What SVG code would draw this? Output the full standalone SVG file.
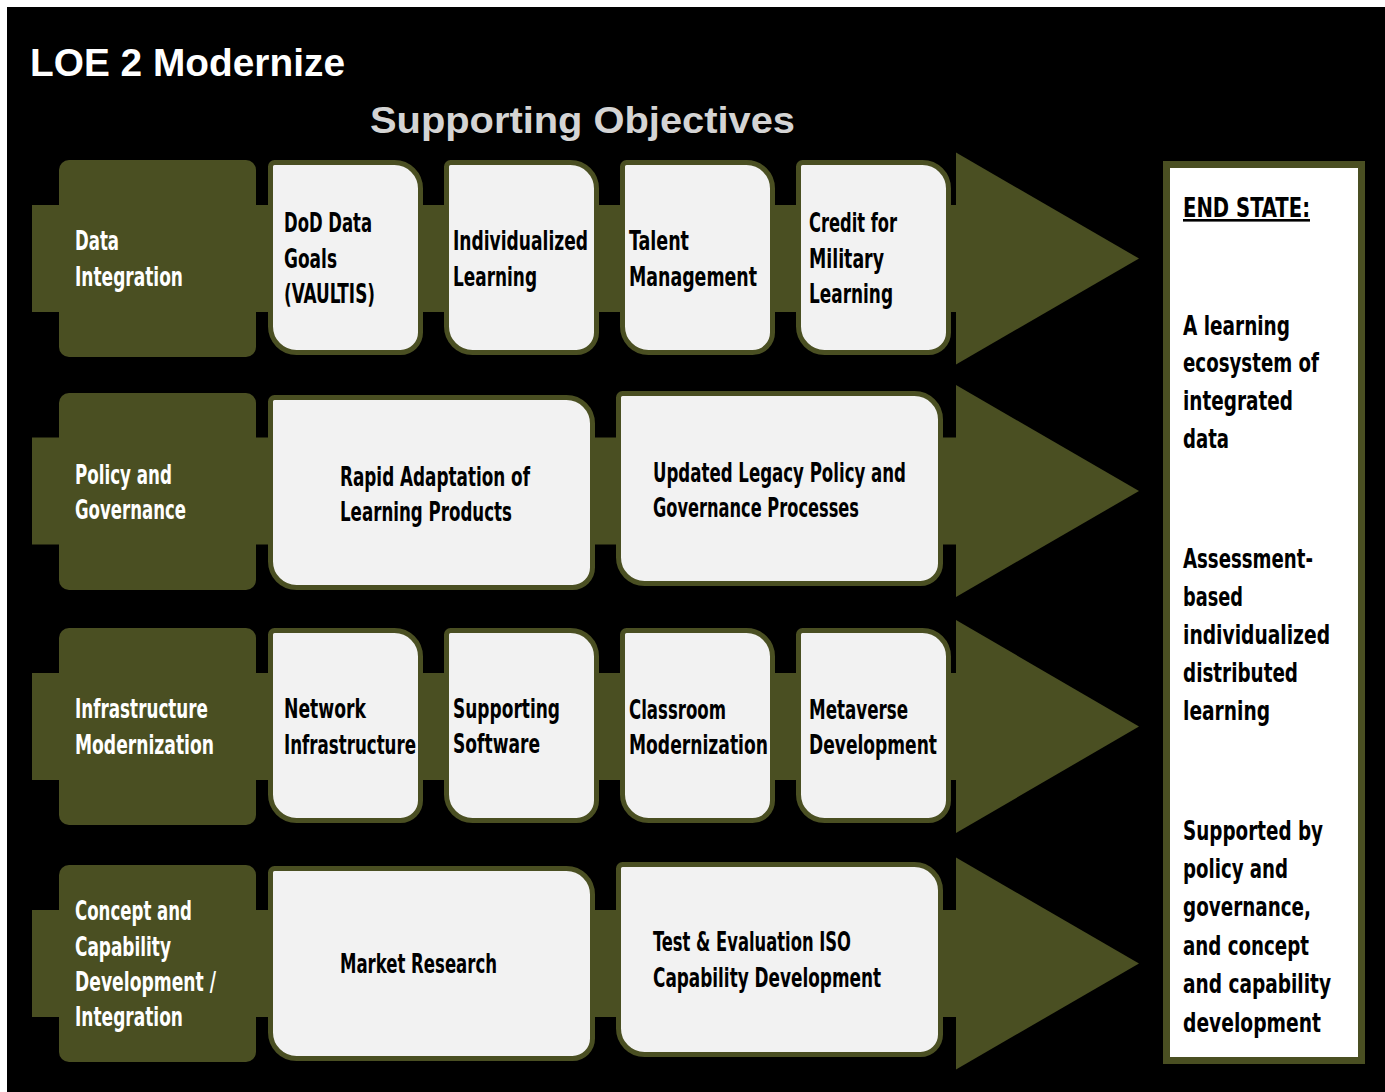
<svg xmlns="http://www.w3.org/2000/svg" xmlns:xlink="http://www.w3.org/1999/xlink" width="1385" height="1092" viewBox="0 0 1385 1092">
<style>
.g{fill:#4a4f22}
.box{fill:#f2f2f2;stroke:#4a4f22;stroke-width:5}
.t{font-family:"Liberation Sans Narrow","DejaVu Sans Condensed","Liberation Sans",Arial,sans-serif;font-weight:bold;font-size:26px}
.w{fill:#ffffff}
.k{fill:#000000}
.h{font-family:"Liberation Sans","DejaVu Sans",Arial,sans-serif;font-weight:bold}
</style>
<defs>
<path id="sb" d="M4,0 H124 A26,26 0 0 1 150,26 V170 A20,20 0 0 1 130,190 H26 A26,26 0 0 1 0,164 V4 A4,4 0 0 1 4,0 Z"/>
<path id="wb" d="M4,0 H296 A26,26 0 0 1 322,26 V170 A20,20 0 0 1 302,190 H26 A26,26 0 0 1 0,164 V4 A4,4 0 0 1 4,0 Z"/>
</defs>
<rect x="0" y="0" width="1385" height="1092" fill="#ffffff"/>
<rect x="7" y="7" width="1378" height="1085" fill="#000000"/>

<g id="titles">
<text class="h w" x="30" y="76" font-size="39" textLength="315" lengthAdjust="spacingAndGlyphs">LOE 2 Modernize</text>
<text class="h" x="370" y="133" font-size="37" fill="#d4d4d4" textLength="425" lengthAdjust="spacingAndGlyphs">Supporting Objectives</text>
</g>

<g id="connectors">
<rect class="g" x="32" y="205" width="926" height="107"/>
<polygon class="g" points="956,152.5 1139,258.5 956,364.5"/>
<rect class="g" x="32" y="437.5" width="926" height="107"/>
<polygon class="g" points="956,385 1139,491 956,597"/>
<rect class="g" x="32" y="673" width="926" height="107"/>
<polygon class="g" points="956,620 1139,726.5 956,833"/>
<rect class="g" x="32" y="910" width="926" height="107"/>
<polygon class="g" points="956,857.5 1139,963.5 956,1069.5"/>
</g>

<g id="row1-label">
<rect class="g" x="59" y="160" width="197" height="197" rx="10"/>
<text class="t w" x="75" y="250" textLength="44" lengthAdjust="spacingAndGlyphs">Data</text>
<text class="t w" x="75" y="286" textLength="108" lengthAdjust="spacingAndGlyphs">Integration</text>
</g>
<g id="dod-data-goals">
<use href="#sb" class="box" x="270.5" y="162.5"/>
<text class="t k" x="284" y="232" textLength="88" lengthAdjust="spacingAndGlyphs">DoD Data</text>
<text class="t k" x="284" y="268" textLength="53" lengthAdjust="spacingAndGlyphs">Goals</text>
<text class="t k" x="284" y="303" textLength="91" lengthAdjust="spacingAndGlyphs">(VAULTIS)</text>
</g>
<g id="individualized-learning">
<use href="#sb" class="box" x="446.5" y="162.5"/>
<text class="t k" x="453" y="250" textLength="135" lengthAdjust="spacingAndGlyphs">Individualized</text>
<text class="t k" x="453" y="286" textLength="84" lengthAdjust="spacingAndGlyphs">Learning</text>
</g>
<g id="talent-management">
<use href="#sb" class="box" x="622.5" y="162.5"/>
<text class="t k" x="629" y="250" textLength="60" lengthAdjust="spacingAndGlyphs">Talent</text>
<text class="t k" x="629" y="286" textLength="128" lengthAdjust="spacingAndGlyphs">Management</text>
</g>
<g id="credit-military-learning">
<use href="#sb" class="box" x="798.5" y="162.5"/>
<text class="t k" x="809" y="232" textLength="88" lengthAdjust="spacingAndGlyphs">Credit for</text>
<text class="t k" x="809" y="268" textLength="75" lengthAdjust="spacingAndGlyphs">Military</text>
<text class="t k" x="809" y="303" textLength="84" lengthAdjust="spacingAndGlyphs">Learning</text>
</g>

<g id="row2-label">
<rect class="g" x="59" y="393" width="197" height="197" rx="10"/>
<text class="t w" x="75" y="484" textLength="97" lengthAdjust="spacingAndGlyphs">Policy and</text>
<text class="t w" x="75" y="519" textLength="111" lengthAdjust="spacingAndGlyphs">Governance</text>
</g>
<g id="rapid-adaptation">
<use href="#wb" class="box" x="270.5" y="397.5"/>
<text class="t k" x="340" y="486" textLength="190" lengthAdjust="spacingAndGlyphs">Rapid Adaptation of</text>
<text class="t k" x="340" y="521" textLength="172" lengthAdjust="spacingAndGlyphs">Learning Products</text>
</g>
<g id="updated-legacy-policy">
<use href="#wb" class="box" x="618.5" y="393.5"/>
<text class="t k" x="653" y="482" textLength="253" lengthAdjust="spacingAndGlyphs">Updated Legacy Policy and</text>
<text class="t k" x="653" y="517" textLength="206" lengthAdjust="spacingAndGlyphs">Governance Processes</text>
</g>

<g id="row3-label">
<rect class="g" x="59" y="628" width="197" height="197" rx="10"/>
<text class="t w" x="75" y="718" textLength="133" lengthAdjust="spacingAndGlyphs">Infrastructure</text>
<text class="t w" x="75" y="754" textLength="139" lengthAdjust="spacingAndGlyphs">Modernization</text>
</g>
<g id="network-infrastructure">
<use href="#sb" class="box" x="270.5" y="630.5"/>
<text class="t k" x="284" y="718" textLength="82" lengthAdjust="spacingAndGlyphs">Network</text>
<text class="t k" x="284" y="754" textLength="132" lengthAdjust="spacingAndGlyphs">Infrastructure</text>
</g>
<g id="supporting-software">
<use href="#sb" class="box" x="446.5" y="630.5"/>
<text class="t k" x="453" y="718" textLength="107" lengthAdjust="spacingAndGlyphs">Supporting</text>
<text class="t k" x="453" y="753" textLength="87" lengthAdjust="spacingAndGlyphs">Software</text>
</g>
<g id="classroom-modernization">
<use href="#sb" class="box" x="622.5" y="630.5"/>
<text class="t k" x="629" y="719" textLength="97" lengthAdjust="spacingAndGlyphs">Classroom</text>
<text class="t k" x="629" y="754" textLength="139" lengthAdjust="spacingAndGlyphs">Modernization</text>
</g>
<g id="metaverse-development">
<use href="#sb" class="box" x="798.5" y="630.5"/>
<text class="t k" x="809" y="719" textLength="99" lengthAdjust="spacingAndGlyphs">Metaverse</text>
<text class="t k" x="809" y="754" textLength="128" lengthAdjust="spacingAndGlyphs">Development</text>
</g>

<g id="row4-label">
<rect class="g" x="59" y="865" width="197" height="197" rx="10"/>
<text class="t w" x="75" y="920" textLength="117" lengthAdjust="spacingAndGlyphs">Concept and</text>
<text class="t w" x="75" y="956" textLength="96" lengthAdjust="spacingAndGlyphs">Capability</text>
<text class="t w" x="75" y="991" textLength="141" lengthAdjust="spacingAndGlyphs">Development /</text>
<text class="t w" x="75" y="1026" textLength="108" lengthAdjust="spacingAndGlyphs">Integration</text>
</g>
<g id="market-research">
<use href="#wb" class="box" x="270.5" y="868.5"/>
<text class="t k" x="340" y="973" textLength="157" lengthAdjust="spacingAndGlyphs">Market Research</text>
</g>
<g id="test-evaluation">
<use href="#wb" class="box" x="618.5" y="864.5"/>
<text class="t k" x="653" y="951" textLength="198" lengthAdjust="spacingAndGlyphs">Test &amp; Evaluation ISO</text>
<text class="t k" x="653" y="987" textLength="228" lengthAdjust="spacingAndGlyphs">Capability Development</text>
</g>

<g id="end-state">
<rect x="1166.5" y="164.5" width="195" height="896" fill="#ffffff" stroke="#4a4f22" stroke-width="7"/>
<text class="t k" x="1183" y="217" textLength="127" lengthAdjust="spacingAndGlyphs" text-decoration="underline">END STATE:</text>
<text class="t k" x="1183" y="335" textLength="107" lengthAdjust="spacingAndGlyphs">A learning</text>
<text class="t k" x="1183" y="372" textLength="136" lengthAdjust="spacingAndGlyphs">ecosystem of</text>
<text class="t k" x="1183" y="410" textLength="110" lengthAdjust="spacingAndGlyphs">integrated</text>
<text class="t k" x="1183" y="448" textLength="46" lengthAdjust="spacingAndGlyphs">data</text>
<text class="t k" x="1183" y="568" textLength="130" lengthAdjust="spacingAndGlyphs">Assessment-</text>
<text class="t k" x="1183" y="606" textLength="60" lengthAdjust="spacingAndGlyphs">based</text>
<text class="t k" x="1183" y="644" textLength="147" lengthAdjust="spacingAndGlyphs">individualized</text>
<text class="t k" x="1183" y="682" textLength="115" lengthAdjust="spacingAndGlyphs">distributed</text>
<text class="t k" x="1183" y="720" textLength="87" lengthAdjust="spacingAndGlyphs">learning</text>
<text class="t k" x="1183" y="840" textLength="140" lengthAdjust="spacingAndGlyphs">Supported by</text>
<text class="t k" x="1183" y="878" textLength="105" lengthAdjust="spacingAndGlyphs">policy and</text>
<text class="t k" x="1183" y="916" textLength="128" lengthAdjust="spacingAndGlyphs">governance,</text>
<text class="t k" x="1183" y="955" textLength="126" lengthAdjust="spacingAndGlyphs">and concept</text>
<text class="t k" x="1183" y="993" textLength="148" lengthAdjust="spacingAndGlyphs">and capability</text>
<text class="t k" x="1183" y="1032" textLength="138" lengthAdjust="spacingAndGlyphs">development</text>
</g>
</svg>
